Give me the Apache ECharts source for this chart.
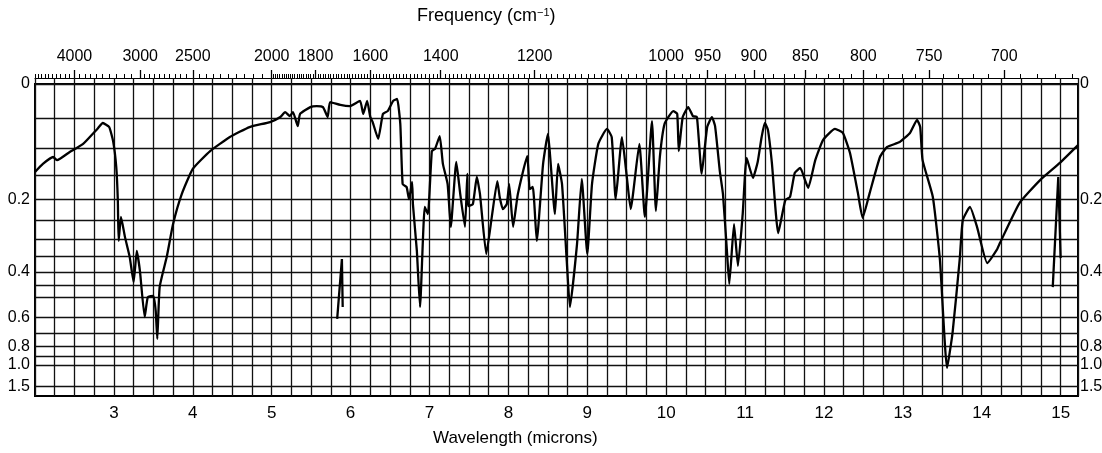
<!DOCTYPE html>
<html>
<head>
<meta charset="utf-8">
<title>Infrared spectrum</title>
<script src="https://cdn.jsdelivr.net/npm/echarts@6/dist/echarts.min.js"></script>
<style>
  html, body { margin: 0; padding: 0; background: #fff; }
  #chart { width: 1102px; height: 453px; }
</style>
</head>
<body>
<div id="chart"></div>
<script>
// trace: wavelength in microns, transmittance as a fraction
const wavelength = [
  2.00, 2.10, 2.23, 2.28, 2.44, 2.61, 2.79, 2.86, 2.94, 2.99, 3.03, 3.05, 3.06, 3.09, 3.14, 3.20, 3.25, 3.29, 3.33, 3.39,
  3.43, 3.50, 3.53, 3.55, 3.58, 3.67, 3.75, 3.86, 4.00, 4.22, 4.47, 4.72, 4.98, 5.11, 5.17, 5.23, 5.27, 5.33, 5.36, 5.49,
  5.57, 5.65, 5.71, 5.74, 5.87, 5.99, 6.12, 6.16, 6.21, 6.25, 6.28, 6.35, 6.41, 6.47, 6.54, 6.59, 6.63, 6.66, 6.71, 6.74,
  6.78, 6.79, 6.84, 6.88, 6.94, 6.98, 7.03, 7.07, 7.13, 7.17, 7.23, 7.27, 7.34, 7.39, 7.45, 7.48, 7.49, 7.55, 7.60, 7.64,
  7.72, 7.79, 7.86, 7.89, 7.93, 7.98, 8.01, 8.06, 8.12, 8.24, 8.27, 8.31, 8.36, 8.44, 8.50, 8.59, 8.63, 8.68, 8.74, 8.78,
  8.87, 8.93, 9.00, 9.06, 9.14, 9.25, 9.31, 9.36, 9.44, 9.50, 9.55, 9.66, 9.73, 9.82, 9.87, 9.92, 9.98, 10.09, 10.14, 10.16,
  10.21, 10.28, 10.34, 10.39, 10.45, 10.52, 10.58, 10.62, 10.68, 10.72, 10.77, 10.80, 10.86, 10.91, 10.97, 11.02, 11.10, 11.16, 11.21, 11.25,
  11.29, 11.34, 11.42, 11.51, 11.57, 11.63, 11.70, 11.76, 11.80, 11.89, 11.99, 12.14, 12.24, 12.33, 12.43, 12.49, 12.58, 12.71, 12.80, 12.96,
  13.09, 13.18, 13.22, 13.25, 13.38, 13.47, 13.56, 13.63, 13.72, 13.76, 13.85, 13.94, 14.07, 14.19, 14.23, 14.48, 14.74, 14.99, 15.22
];
const transmittance = [
  0.718, 0.744, 0.766, 0.756, 0.782, 0.808, 0.856, 0.875, 0.862, 0.817, 0.734, 0.625, 0.497, 0.574, 0.510, 0.446, 0.365, 0.465, 0.401, 0.253,
  0.317, 0.321, 0.272, 0.183, 0.349, 0.446, 0.551, 0.647, 0.728, 0.785, 0.830, 0.862, 0.878, 0.894, 0.910, 0.897, 0.910, 0.865, 0.904, 0.926,
  0.929, 0.926, 0.894, 0.942, 0.933, 0.929, 0.946, 0.904, 0.946, 0.894, 0.878, 0.824, 0.904, 0.913, 0.946, 0.952, 0.872, 0.679, 0.670, 0.631,
  0.686, 0.615, 0.465, 0.285, 0.606, 0.583, 0.785, 0.792, 0.833, 0.744, 0.679, 0.542, 0.750, 0.647, 0.542, 0.712, 0.609, 0.615, 0.702, 0.647,
  0.455, 0.574, 0.689, 0.638, 0.599, 0.615, 0.679, 0.542, 0.647, 0.769, 0.663, 0.670, 0.497, 0.744, 0.840, 0.583, 0.744, 0.679, 0.433, 0.285,
  0.487, 0.696, 0.455, 0.679, 0.808, 0.856, 0.830, 0.631, 0.830, 0.705, 0.599, 0.808, 0.574, 0.881, 0.593, 0.766, 0.872, 0.913, 0.904, 0.785,
  0.894, 0.926, 0.897, 0.894, 0.712, 0.862, 0.894, 0.865, 0.721, 0.647, 0.465, 0.359, 0.551, 0.417, 0.583, 0.763, 0.699, 0.750, 0.830, 0.875,
  0.853, 0.747, 0.522, 0.628, 0.638, 0.715, 0.731, 0.692, 0.667, 0.756, 0.821, 0.856, 0.843, 0.779, 0.651, 0.571, 0.651, 0.766, 0.798, 0.814,
  0.843, 0.885, 0.862, 0.756, 0.638, 0.436, 0.090, 0.202, 0.436, 0.564, 0.606, 0.542, 0.426, 0.468, 0.490, 0.619, 0.692, 0.747, 0.804
];
// two loose pen strokes off the main trace
const strokeA_wl = [5.83, 5.89, 5.90];
const strokeA_tr = [0.247, 0.439, 0.285];
const strokeB_wl = [14.90, 14.97, 15.00];
const strokeB_tr = [0.349, 0.702, 0.442];

const absorbanceLabels = [0, 0.2, 0.4, 0.6, 0.8, 1.0, 1.5];
const absorbanceGrid = [0, 0.05, 0.1, 0.15, 0.2, 0.25, 0.3, 0.35, 0.4, 0.45, 0.5, 0.6, 0.7, 0.8, 0.9, 1.0, 1.5];
const wavelengthLabels = [3, 4, 5, 6, 7, 8, 9, 10, 11, 12, 13, 14, 15];
const frequencyLabels = [4000, 3000, 2500, 2000, 1800, 1600, 1400, 1200, 1000, 950, 900, 850, 800, 750, 700];

// minor frequency ticks
let frequencyMinor = [];
for (let f = 5000; f > 3000; f -= 100) frequencyMinor.push(f);
for (let f = 3000; f > 2000; f -= 50) frequencyMinor.push(f);
for (let f = 2000; f >= 660; f -= 10) frequencyMinor.push(f);

const toT = a => Math.pow(10, -a);
const toWl = f => 10000 / f;
const zip = (xs, ys) => xs.map((x, i) => [x, ys[i]]);
const absLabel = v => { const a = -Math.log10(v); return a < 0.01 ? '0' : a.toFixed(1); };

const FONT = '"Liberation Sans", Arial, sans-serif';
const WL_MIN = 2, WL_MAX = 15.22;

const chart = echarts.init(document.getElementById('chart'));

const lineStyle = { color: '#000', width: 2.3 };

chart.setOption({
  animation: false,
  grid: {
    left: 35, right: 24, top: 84, bottom: 57,
    outerBoundsMode: 'none',
    containLabel: false,
    show: true, borderColor: '#000', borderWidth: 2, backgroundColor: 'transparent'
  },
  xAxis: [{
    type: 'value',
    min: WL_MIN, max: WL_MAX, interval: 0.25,
    position: 'bottom',
    axisLine: { show: false, onZero: false },
    axisTick: { show: false },
    splitLine: { show: true, lineStyle: { color: '#111', width: 1.3 } },
    axisLabel: {
      customValues: wavelengthLabels,
      formatter: v => String(Math.round(v)),
      color: '#000', fontFamily: FONT, fontSize: 17, margin: 9
    }
  }, {
    type: 'value',
    min: WL_MIN, max: WL_MAX,
    position: 'top',
    offset: 6,
    axisLine: { show: true, onZero: false, lineStyle: { color: '#000', width: 1 } },
    axisTick: { show: true, customValues: frequencyLabels.map(toWl), length: 8, lineStyle: { color: '#000', width: 1.3 } },
    splitLine: { show: false },
    axisLabel: {
      customValues: frequencyLabels.map(toWl),
      formatter: v => String(Math.round(10000 / v)),
      color: '#000', fontFamily: FONT, fontSize: 16, margin: 13
    }
  }, {
    type: 'value',
    min: WL_MIN, max: WL_MAX,
    position: 'top',
    offset: 6,
    axisLine: { show: false, onZero: false },
    axisTick: { show: true, customValues: frequencyMinor.map(toWl), length: 4, lineStyle: { color: '#000', width: 1 } },
    splitLine: { show: false },
    axisLabel: { show: false }
  }, {
    // grid lines poke through the top border up to the frequency scale
    type: 'value',
    min: WL_MIN, max: WL_MAX, interval: 0.25,
    position: 'top',
    offset: 0,
    axisLine: { show: false, onZero: false },
    axisTick: { show: true, length: 6, lineStyle: { color: '#111', width: 1.3 } },
    splitLine: { show: false },
    axisLabel: { show: false }
  }],
  yAxis: [{
    type: 'value',
    min: 0, max: 1,
    position: 'left',
    axisLine: { show: false, onZero: false },
    axisTick: { show: false, customValues: absorbanceGrid.map(toT) },
    splitLine: { show: true, lineStyle: { color: '#111', width: 1.3 } },
    axisLabel: {
      customValues: absorbanceLabels.map(toT),
      formatter: absLabel,
      color: '#000', fontFamily: FONT, fontSize: 16, margin: 5
    }
  }, {
    type: 'value',
    min: 0, max: 1,
    position: 'right',
    axisLine: { show: false, onZero: false },
    axisTick: { show: false },
    splitLine: { show: false },
    axisLabel: {
      customValues: absorbanceLabels.map(toT),
      formatter: absLabel,
      color: '#000', fontFamily: FONT, fontSize: 16, margin: 2
    }
  }],
  graphic: [{
    type: 'text', left: 417, top: 7,
    style: {
      text: '{t|Frequency (cm}{s|−1}{t|)}',
      rich: {
        t: { fontFamily: FONT, fontSize: 18, fill: '#000' },
        s: { fontFamily: FONT, fontSize: 11, fill: '#000', verticalAlign: 'top', padding: [0, 0, 8, 0] }
      }
    }
  }, {
    type: 'text', left: 433, top: 430,
    style: { text: 'Wavelength (microns)', fontFamily: FONT, fontSize: 17, fill: '#000' }
  }],
  series: [{
    type: 'line', name: 'trace',
    data: zip(wavelength, transmittance),
    showSymbol: false, smooth: 0.15,
    lineStyle: lineStyle
  }, {
    type: 'line', name: 'strokeA',
    data: zip(strokeA_wl, strokeA_tr),
    showSymbol: false,
    lineStyle: lineStyle
  }, {
    type: 'line', name: 'strokeB',
    data: zip(strokeB_wl, strokeB_tr),
    showSymbol: false,
    lineStyle: lineStyle
  }]
});
</script>
</body>
</html>
